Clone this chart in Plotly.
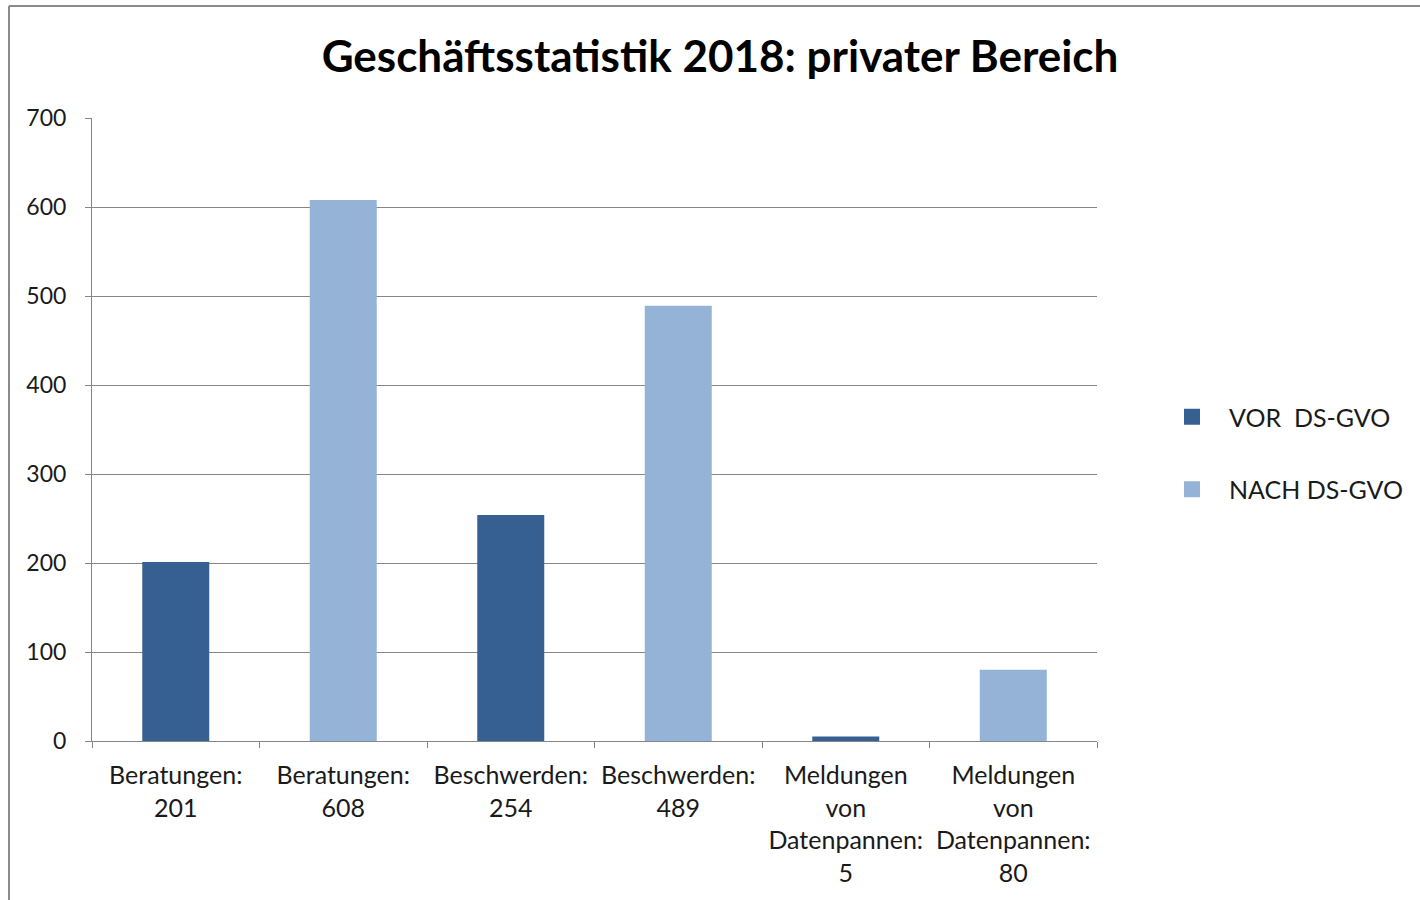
import plotly.graph_objects as go

categories = [
    "Beratungen:<br>201",
    "Beratungen:<br>608",
    "Beschwerden:<br>254",
    "Beschwerden:<br>489",
    "Meldungen<br>von<br>Datenpannen:<br>5",
    "Meldungen<br>von<br>Datenpannen:<br>80",
]
vor_values = [201, None, 254, None, 5, None]
nach_values = [None, 608, None, 489, None, 80]
series_names = ["VOR  DS-GVO", "NACH DS-GVO"]
series_colors = ["#366092", "#95B3D7"]
y_ticks = [0, 100, 200, 300, 400, 500, 600, 700]
title_text = "Geschäftsstatistik 2018: privater Bereich"

FONT = "Lato"
TXT = "#1a1a1a"
fig = go.Figure()
fig.add_trace(go.Bar(x=categories, y=vor_values, name=series_names[0],
                     marker=dict(color=series_colors[0], line=dict(width=0)),
                     showlegend=False))
fig.add_trace(go.Bar(x=categories, y=nach_values, name=series_names[1],
                     marker=dict(color=series_colors[1], line=dict(width=0)),
                     showlegend=False))
for i, (nm, col) in enumerate(zip(series_names, series_colors)):
    fig.add_trace(go.Scatter(x=[None], y=[None], mode="markers", name=nm,
                             legendgroup=f"g{i}",
                             marker=dict(symbol="square", size=16, color=col,
                                         line=dict(width=0))))

L, R, T, B = 92, 1097, 118, 741
W, H = 1420, 900
pw, ph = R - L, B - T

def px(x):
    return (x - L) / pw

def py(y):
    return (B - y) / ph

fig.update_layout(
    width=W, height=H,
    margin=dict(l=L, r=W - R, t=T, b=H - B, pad=0),
    barmode="overlay",
    bargap=0.6,
    paper_bgcolor="white", plot_bgcolor="white",
    font=dict(family=FONT, size=25, color=TXT),
    title=dict(text="<b>" + title_text + "</b>", x=px(720), xref="paper",
               xanchor="center", y=1 - 57 / H, yanchor="middle",
               font=dict(family=FONT, size=44, color="black")),
    legend=dict(x=px(1155), y=py(394), xanchor="left", yanchor="top",
                traceorder="grouped", tracegroupgap=37,
                font=dict(family=FONT, size=25, color=TXT),
                itemwidth=64, bgcolor="rgba(0,0,0,0)"),
    showlegend=True,
    shapes=[
        dict(type="line", xref="paper", yref="paper",
             x0=px(9), x1=px(1430), y0=py(6), y1=py(6),
             line=dict(color="#8a8a8a", width=2)),
        dict(type="line", xref="paper", yref="paper",
             x0=px(9), x1=px(9), y0=py(6), y1=py(910),
             line=dict(color="#8a8a8a", width=2)),
    ],
)
fig.update_xaxes(
    type="category", tickson="boundaries", ticks="outside", ticklen=6,
    tickcolor="#868686", tickwidth=1,
    showline=True, linecolor="#868686", linewidth=1,
    showgrid=False, tickfont=dict(family=FONT, size=25, color=TXT),
    range=[-0.5, 5.5], ticklabelstandoff=12,
)
fig.update_yaxes(
    range=[0, 700], tickvals=y_ticks, ticks="outside", ticklen=6,
    tickcolor="#868686", showline=True, linecolor="#868686", linewidth=1,
    showgrid=True, gridcolor="#868686", gridwidth=1,
    zeroline=False, tickfont=dict(family=FONT, size=23, color=TXT),
    ticklabelstandoff=14,
)
fig.write_html("out.html")
